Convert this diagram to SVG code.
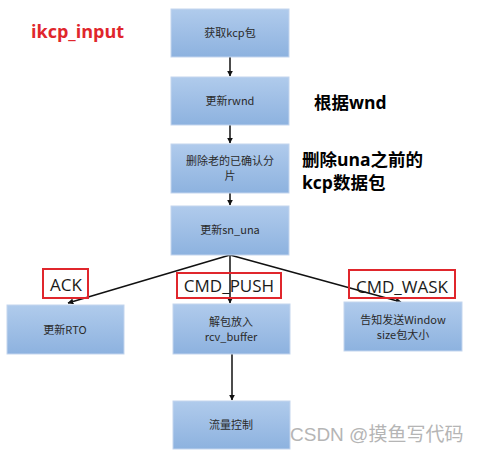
<svg xmlns="http://www.w3.org/2000/svg" width="477" height="453" viewBox="0 0 477 453">
<style>
.box{fill:url(#g);stroke:#c3d5ee;stroke-width:1}
.bt{font-family:"Noto Sans CJK SC","Liberation Sans",sans-serif;font-size:11px;fill:#2a2a2a;text-anchor:middle}
.red{fill:none;stroke:#e0262c;stroke-width:2}
.lbl{font-family:"Open Sans","Noto Sans CJK SC",sans-serif;font-size:17px;fill:#1a1a1a}
.bold{font-family:"Open Sans","Noto Sans CJK SC",sans-serif;font-size:17.5px;font-weight:bold;fill:#000}
.ln{stroke:#111;stroke-width:1.5;fill:none}
</style>
<defs>
<linearGradient id="g" x1="0" y1="0" x2="0" y2="1">
<stop offset="0" stop-color="#b0cbec"/>
<stop offset="1" stop-color="#8db2df"/>
</linearGradient>
<marker id="ah" viewBox="0 0 10 10" refX="9" refY="5" markerWidth="6" markerHeight="6" orient="auto" markerUnits="userSpaceOnUse">
<path d="M0,0 L10,5 L0,10 z" fill="#111"/>
</marker>
</defs>
<rect width="477" height="453" fill="#fff"/>
<text x="31" y="38" style="font-family:'Open Sans','Noto Sans CJK SC',sans-serif;font-size:18px;font-weight:bold;fill:#e0262c">ikcp_input</text>
<text x="314" y="109" class="bold">根据wnd</text>
<text x="302" y="166" class="bold">删除una之前的</text>
<text x="302" y="189" class="bold">kcp数据包</text>
<g id="connectors">
<line x1="230" y1="57" x2="230" y2="76" class="ln" marker-end="url(#ah)"/>
<line x1="230" y1="125" x2="230" y2="143" class="ln" marker-end="url(#ah)"/>
<line x1="230" y1="193" x2="230" y2="205" class="ln" marker-end="url(#ah)"/>
<line x1="230" y1="255" x2="68" y2="303" class="ln" marker-end="url(#ah)"/>
<line x1="230" y1="255" x2="230" y2="303" class="ln" marker-end="url(#ah)"/>
<line x1="230" y1="255" x2="401" y2="302" class="ln" marker-end="url(#ah)"/>
<line x1="232" y1="354" x2="232" y2="400" class="ln" marker-end="url(#ah)"/>
</g>
<g id="n1"><rect x="171" y="9" width="118" height="48" class="box"/><text x="230" y="37" class="bt">获取kcp包</text></g>
<g id="n2"><rect x="171" y="77" width="118" height="48" class="box"/><text x="230" y="105" class="bt">更新rwnd</text></g>
<g id="n3"><rect x="171" y="144" width="118" height="49" class="box"/><text x="230" y="165" class="bt">删除老的已确认分</text><text x="230" y="180" class="bt">片</text></g>
<g id="n4"><rect x="171" y="206" width="118" height="49" class="box"/><text x="230" y="234" class="bt">更新sn_una</text></g>
<g id="n5"><rect x="7" y="305" width="117" height="49" class="box"/><text x="65" y="334" class="bt">更新RTO</text></g>
<g id="n6"><rect x="173" y="304" width="117" height="50" class="box"/><text x="231" y="326" class="bt">解包放入</text><text x="231" y="341" class="bt">rcv_buffer</text></g>
<g id="n7"><rect x="344" y="302" width="118" height="49" class="box"/><text x="403" y="324" class="bt">告知发送Window</text><text x="403" y="339" class="bt">size包大小</text></g>
<g id="n8"><rect x="173" y="401" width="117" height="48" class="box"/><text x="231" y="429" class="bt">流量控制</text></g>
<g id="l1"><rect x="43" y="269" width="45" height="29" class="red"/><text x="66" y="291" class="lbl" text-anchor="middle">ACK</text></g>
<g id="l2"><rect x="177" y="273" width="104" height="25" class="red"/><text x="229" y="292" class="lbl" text-anchor="middle">CMD_PUSH</text></g>
<g id="l3"><rect x="349" y="270" width="106" height="28" class="red"/><text x="402" y="293" class="lbl" text-anchor="middle">CMD_WASK</text></g>
<text x="290" y="441" style="font-family:'Liberation Sans','Noto Sans CJK SC',sans-serif;font-size:19px;fill:#b5b5b5">CSDN @摸鱼写代码</text>
</svg>
